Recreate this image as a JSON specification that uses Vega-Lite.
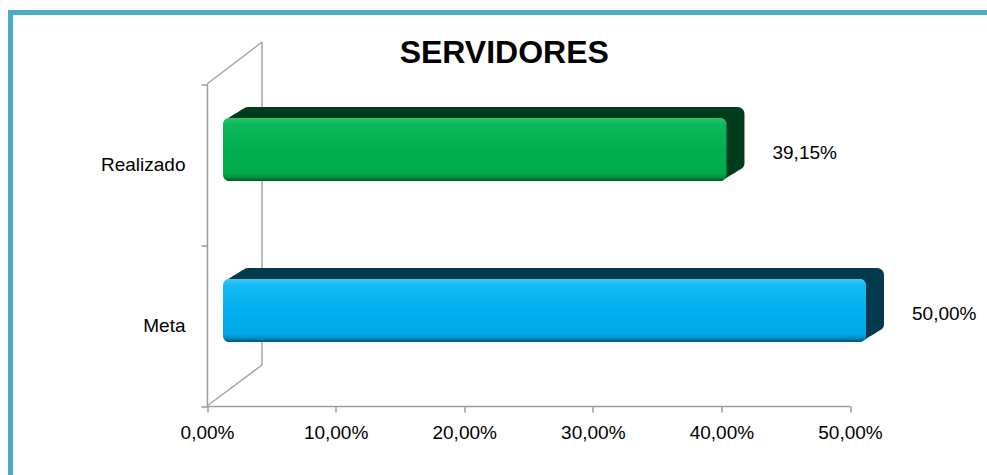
{
  "$schema": "https://vega.github.io/schema/vega-lite/v6.json",
  "autosize": {"type": "none"},
  "padding": {"left": 10.5, "top": 12.5, "right": -5, "bottom": -5},
  "width": 981.5,
  "height": 467.5,
  "background": "#FFFFFF",
  "view": {"stroke": "#4BACC6", "strokeWidth": 5, "fill": "#FFFFFF"},
  "config": {
    "locale": {"number": {"decimal": ",", "thousands": ".", "grouping": [3], "currency": ["R$", ""]}},
    "font": "Liberation Sans, Arial, sans-serif"
  },
  "title": {
    "text": "SERVIDORES",
    "font": "Liberation Sans, Arial, sans-serif",
    "fontSize": 32,
    "fontWeight": "bold",
    "color": "#000000",
    "anchor": "middle",
    "frame": "group",
    "baseline": "alphabetic",
    "offset": -91,
    "dx": 3
  },
  "data": {"values": [
    {"categoria": "Realizado", "valor": 0.3915},
    {"categoria": "Meta", "valor": 0.5}
  ]},
  "encoding": {
    "x": {
      "field": "valor", "type": "quantitative",
      "scale": {"domain": [0, 0.5], "range": [196.5, 839.5], "nice": false, "zero": true},
      "axis": {
        "title": null, "offset": -74, "values": [0, 0.1, 0.2, 0.3, 0.4, 0.5], "format": ".2%",
        "grid": false, "labelFlush": false, "labelOverlap": false,
        "domainColor": "#9C9C9C", "domainWidth": 1.5, "tickColor": "#9C9C9C", "tickWidth": 1.5, "tickSize": 6,
        "labelFontSize": 19, "labelColor": "#000000", "labelPadding": 11,
        "labelFont": "Liberation Sans, Arial, sans-serif"
      }
    },
    "y": {
      "field": "categoria", "type": "nominal", "sort": ["Realizado", "Meta"],
      "scale": {"domain": ["Realizado", "Meta"], "range": [71.5, 393.5], "paddingInner": 0, "paddingOuter": 0},
      "axis": {
        "title": null, "offset": -196.5, "tickBand": "extent",
        "grid": false, "domainColor": "#9C9C9C", "domainWidth": 1.5, "tickColor": "#9C9C9C", "tickWidth": 1.5, "tickSize": 6,
        "labelFontSize": 19, "labelColor": "#000000", "labelPadding": 16,
        "labelFont": "Liberation Sans, Arial, sans-serif"
      }
    }
  },
  "layer": [
    {
      "transform": [{"filter": "datum.categoria === 'Meta'"}],
      "mark": {"type": "rule", "color": "#A6A6A6", "strokeWidth": 1.5, "xOffset": 55, "yOffset": -42, "y2Offset": 39.5},
      "encoding": {
        "x": {"datum": 0, "type": "quantitative"},
        "y": {"datum": "Realizado", "type": "nominal", "bandPosition": 0},
        "y2": {"datum": "Meta"}
      }
    },
    {
      "transform": [{"filter": "datum.categoria === 'Meta'"}],
      "mark": {"type": "rule", "color": "#A6A6A6", "strokeWidth": 1.5, "yOffset": -80.5, "x2Offset": 55, "y2Offset": -122.5},
      "encoding": {
        "x": {"datum": 0, "type": "quantitative"},
        "x2": {"datum": 0},
        "y": {"datum": "Realizado", "type": "nominal"},
        "y2": {"datum": "Realizado"}
      }
    },
    {
      "transform": [{"filter": "datum.categoria === 'Meta'"}],
      "mark": {"type": "rule", "color": "#A6A6A6", "strokeWidth": 1.5, "yOffset": 80.5, "x2Offset": 55, "y2Offset": 39.5},
      "encoding": {
        "x": {"datum": 0, "type": "quantitative"},
        "x2": {"datum": 0},
        "y": {"datum": "Meta", "type": "nominal"},
        "y2": {"datum": "Meta"}
      }
    },
    {
      "mark": {"type": "bar", "height": 63, "cornerRadius": 7, "xOffset": 34, "x2Offset": 34, "yOffset": -26},
      "encoding": {
        "x2": {"datum": 0},
        "color": {"field": "categoria", "type": "nominal", "scale": {"domain": ["Realizado", "Meta"], "range": ["#003D1C", "#033A4E"]}, "legend": null}}
    },
    {
      "mark": {"type": "bar", "height": 63, "cornerRadius": 7, "xOffset": 31, "x2Offset": 31, "yOffset": -24.2},
      "encoding": {"x2": {"datum": 0}, "color": {"field": "categoria", "type": "nominal", "legend": null}}
    },
    {
      "mark": {"type": "bar", "height": 63, "cornerRadius": 7, "xOffset": 28, "x2Offset": 28, "yOffset": -22.3},
      "encoding": {"x2": {"datum": 0}, "color": {"field": "categoria", "type": "nominal", "legend": null}}
    },
    {
      "mark": {"type": "bar", "height": 63, "cornerRadius": 7, "xOffset": 25, "x2Offset": 25, "yOffset": -20.5},
      "encoding": {"x2": {"datum": 0}, "color": {"field": "categoria", "type": "nominal", "legend": null}}
    },
    {
      "mark": {"type": "bar", "height": 63, "cornerRadius": 7, "xOffset": 22, "x2Offset": 22, "yOffset": -18.7},
      "encoding": {"x2": {"datum": 0}, "color": {"field": "categoria", "type": "nominal", "legend": null}}
    },
    {
      "mark": {"type": "bar", "height": 63, "cornerRadius": 7, "xOffset": 19, "x2Offset": 19, "yOffset": -16.8},
      "encoding": {"x2": {"datum": 0}, "color": {"field": "categoria", "type": "nominal", "legend": null}}
    },
    {
      "transform": [{"filter": "datum.categoria === 'Realizado'"}],
      "mark": {
        "type": "bar", "height": 63, "cornerRadius": 6, "xOffset": 16, "x2Offset": 16, "yOffset": -15,
        "color": {"gradient": "linear", "x1": 0, "y1": 0, "x2": 0, "y2": 1, "stops": [
          {"offset": 0, "color": "#2BC46C"},
          {"offset": 0.1, "color": "#0CB85A"},
          {"offset": 0.5, "color": "#00B050"},
          {"offset": 0.88, "color": "#00AA4C"},
          {"offset": 0.95, "color": "#008A3C"},
          {"offset": 1, "color": "#005A26"}
        ]}
      },
      "encoding": {"x2": {"datum": 0}}
    },
    {
      "transform": [{"filter": "datum.categoria === 'Meta'"}],
      "mark": {
        "type": "bar", "height": 63, "cornerRadius": 6, "xOffset": 16, "x2Offset": 16, "yOffset": -15,
        "color": {"gradient": "linear", "x1": 0, "y1": 0, "x2": 0, "y2": 1, "stops": [
          {"offset": 0, "color": "#3ACAF8"},
          {"offset": 0.1, "color": "#14BBF4"},
          {"offset": 0.5, "color": "#00B0F0"},
          {"offset": 0.88, "color": "#00A9E6"},
          {"offset": 0.95, "color": "#0084B8"},
          {"offset": 1, "color": "#00547A"}
        ]}
      },
      "encoding": {"x2": {"datum": 0}}
    },
    {
      "mark": {"type": "text", "align": "left", "baseline": "middle", "dx": 62, "dy": -12, "fontSize": 19, "color": "#000000",
        "font": "Liberation Sans, Arial, sans-serif"},
      "encoding": {"text": {"field": "valor", "type": "quantitative", "format": ".2%"}}
    }
  ]
}
